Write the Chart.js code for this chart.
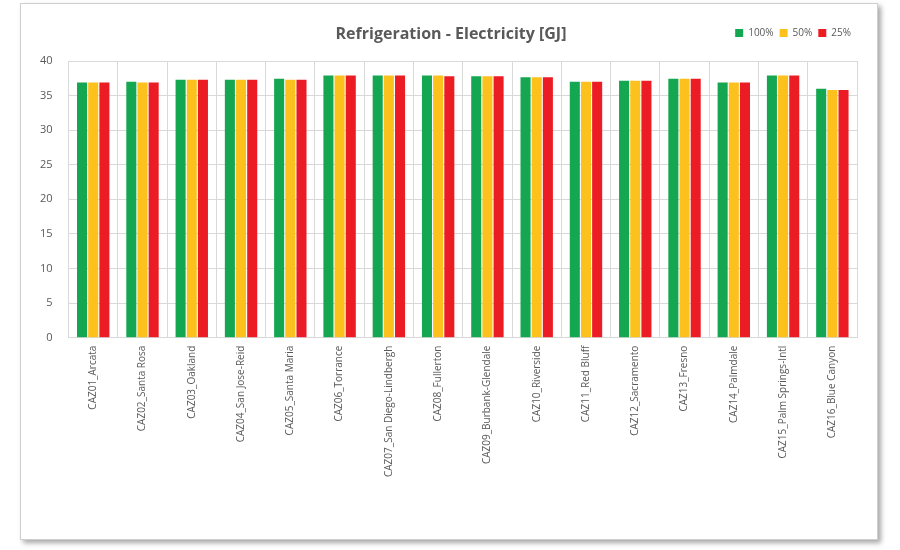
<!DOCTYPE html>
<html>
<head>
<meta charset="utf-8">
<script src="https://cdn.jsdelivr.net/npm/chart.js@4.4.0/dist/chart.umd.min.js"></script>
<style>
  body { margin: 0; background: #fff; }
  #frame {
    position: absolute; left: 20px; top: 3px; width: 856px; height: 535px;
    border: 1px solid #cfcfcf; box-shadow: 3px 3px 5px rgba(0,0,0,0.35); background: #fff;
  }
</style>
</head>
<body>
<div id="frame"><canvas id="canvas" width="856" height="535"></canvas></div>
<script>
var stations = ['CAZ01_Arcata', 'CAZ02_Santa Rosa', 'CAZ03_Oakland', 'CAZ04_San Jose-Reid',
    'CAZ05_Santa Maria', 'CAZ06_Torrance', 'CAZ07_San Diego-Lindbergh', 'CAZ08_Fullerton',
    'CAZ09_Burbank-Glendale', 'CAZ10_Riverside', 'CAZ11_Red Bluff', 'CAZ12_Sacramento',
    'CAZ13_Fresno', 'CAZ14_Palmdale', 'CAZ15_Palm Springs-Intl', 'CAZ16_Blue Canyon'];

var full = [36.9, 37.0, 37.3, 37.3, 37.45, 37.9, 37.9, 37.9, 37.8, 37.65, 37.0, 37.15, 37.45, 36.9, 37.9, 36.0];
var half = [36.9, 36.9, 37.3, 37.3, 37.3, 37.9, 37.9, 37.9, 37.8, 37.65, 37.0, 37.15, 37.45, 36.9, 37.9, 35.8];
var quarter = [36.9, 36.9, 37.3, 37.3, 37.3, 37.9, 37.9, 37.8, 37.8, 37.65, 37.0, 37.15, 37.45, 36.9, 37.9, 35.8];

var yTicks = [0, 5, 10, 15, 20, 25, 30, 35, 40];

var gray = '#595959';

// title sits on the same row as the legend, so draw it by hand
var titlePlugin = {
    id: 'titleRow',
    beforeInit: function(chart) {
        // push the plot area down a bit below the legend row
        var origFit = chart.legend.fit;
        chart.legend.fit = function() {
            origFit.bind(chart.legend)();
            this.height += 13;
        };
    },
    afterDraw: function(chart) {
        var ctx = chart.ctx;
        ctx.save();
        ctx.font = 'bold 16px "Open Sans", sans-serif';
        ctx.fillStyle = gray;
        ctx.textAlign = 'center';
        ctx.textBaseline = 'middle';
        ctx.fillText('Refrigeration - Electricity [GJ]', 430, 30);
        ctx.restore();
    }
};

var config = {
    type: 'bar',
    data: {
        labels: stations,
        datasets: [{
            label: '100%',
            backgroundColor: '#14a650',
            data: full
        }, {
            label: '50%',
            backgroundColor: '#fcc11c',
            data: half
        }, {
            label: '25%',
            backgroundColor: '#ec1c24',
            data: quarter
        }]
    },
    options: {
        responsive: false,
        animation: false,
        layout: {
            padding: { top: 18, right: 20, bottom: 54, left: 3 }
        },
        datasets: {
            bar: { categoryPercentage: 0.68, barPercentage: 0.9 }
        },
        plugins: {
            legend: {
                position: 'top',
                align: 'end',
                labels: {
                    boxWidth: 8,
                    boxHeight: 8,
                    padding: 6,
                    color: gray,
                    font: { size: 10, family: '"Open Sans", sans-serif' }
                }
            },
            tooltip: { enabled: false }
        },
        scales: {
            x: {
                offset: true,
                grid: { color: '#d9d9d9', offset: true, drawTicks: false },
                border: { color: '#d9d9d9' },
                ticks: {
                    color: gray,
                    maxRotation: 90,
                    minRotation: 90,
                    padding: 8,
                    autoSkip: false,
                    font: { size: 10, family: '"Open Sans", sans-serif' }
                }
            },
            y: {
                min: 0,
                max: 40,
                afterBuildTicks: function(axis) {
                    axis.ticks = yTicks.map(function(v) { return { value: v }; });
                },
                grid: { color: '#d9d9d9', drawTicks: false },
                border: { color: '#d9d9d9' },
                ticks: {
                    color: gray,
                    padding: 16,
                    font: { size: 11, family: '"Open Sans", sans-serif' }
                }
            }
        }
    },
    plugins: [titlePlugin]
};

var ctx = document.getElementById('canvas').getContext('2d');
window.myBar = new Chart(ctx, config);
</script>
</body>
</html>
